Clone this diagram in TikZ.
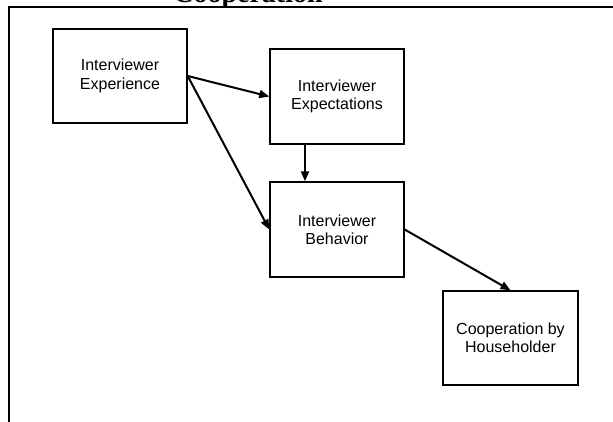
\documentclass[tikz,border=0pt]{standalone}
\usepackage{fontspec}
\setmainfont{Liberation Sans}
\newfontfamily\titlefont{Liberation Serif}
\usetikzlibrary{arrows.meta}

\begin{document}
\begin{tikzpicture}[x=1pt,y=-1pt]
\tikzstyle{boxnode} = [
  draw = black,
  line width = 1.4pt,
  minimum width = 134pt,
  minimum height = 94pt,
  inner sep = 0pt,
  align = center,
  font = \fontsize{16}{18.3}\selectfont
]
\tikzstyle{tarrow} = [
  line width = 2pt,
  -{Triangle[length=10pt,width=8pt]}
]

\clip (0,0) rectangle (613,422);
\fill[white] (0,0) rectangle (613,422);

% heading, cut off at the top
\node [anchor=base, inner sep=0pt, font=\titlefont\bfseries\fontsize{28}{30}\selectfont] (title) at (248,3) {Cooperation};

% frame
\draw [line width=2pt] (613,7) -- (9,7) -- (9,422);

\node [boxnode] (exper) at (120,76) {Interviewer\\Experience};
\node [boxnode, minimum height=95pt] (expect) at (337,96.5) {Interviewer\\Expectations};
\node [boxnode, minimum height=95pt] (behav) at (337,229.5) {Interviewer\\Behavior};
\node [boxnode, minimum width=135pt] (coop) at (510.5,338) {Cooperation by\\Householder};

\draw[tarrow] (exper.east) -- (expect.west);
\draw[tarrow] (exper.east) -- (behav.west);
\draw[tarrow] ([xshift=-32pt]expect.south) -- ([xshift=-32pt]behav.north);
\draw[tarrow] (behav.east) -- (coop.north);

\end{tikzpicture}
\end{document}
